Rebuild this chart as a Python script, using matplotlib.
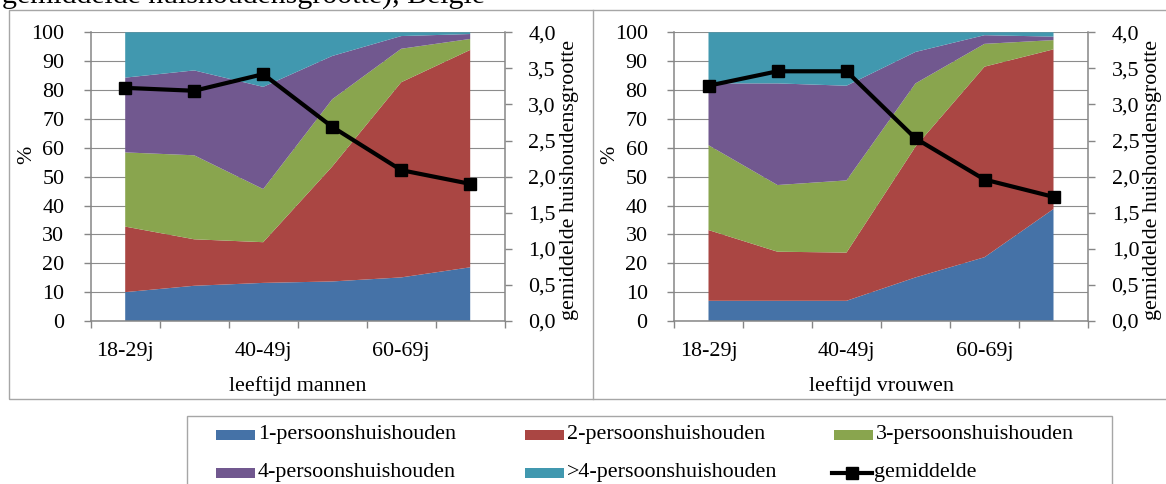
# huishoudensgrootte per leeftijd, mannen en vrouwen (België)
import matplotlib
matplotlib.use('Agg')
import matplotlib.pyplot as plt
from matplotlib.patches import Rectangle
from matplotlib.lines import Line2D
from matplotlib.ticker import FuncFormatter

plt.rcParams['font.family'] = ['Liberation Serif', 'DejaVu Serif']

# Data (aandeel in %, per leeftijdsgroep)
leeftijd = ['18-29j', '30-39j', '40-49j', '50-59j', '60-69j', '70+j']
reeksen = ['1-persoonshuishouden', '2-persoonshuishouden', '3-persoonshuishouden',
           '4-persoonshuishouden', '>4-persoonshuishouden']

mannen_1p = [10.0, 12.2, 13.2, 13.7, 15.1, 18.6]
mannen_2p = [22.7, 16.1, 14.1, 39.8, 67.6, 75.3]
mannen_3p = [25.7, 29.1, 18.4, 23.3, 11.6, 3.8]
mannen_4p = [25.9, 29.4, 35.4, 15.0, 4.4, 1.7]
mannen_5p = [15.7, 13.2, 18.9, 8.2, 1.3, 0.6]
mannen_gem = [3.23, 3.19, 3.42, 2.69, 2.09, 1.90]

vrouwen_1p = [7.0, 7.0, 7.0, 15.1, 22.1, 38.8]
vrouwen_2p = [24.5, 17.0, 16.7, 45.3, 66.0, 55.3]
vrouwen_3p = [29.4, 23.1, 25.0, 21.9, 7.9, 3.2]
vrouwen_4p = [21.4, 35.2, 32.8, 10.9, 3.0, 1.2]
vrouwen_5p = [17.7, 17.7, 18.5, 6.8, 1.0, 1.5]
vrouwen_gem = [3.26, 3.46, 3.46, 2.53, 1.96, 1.72]

kleuren = ['#4572A7', '#AA4643', '#89A54E', '#71588F', '#4198AF']
grijs = '#868686'
kader = '#a6a6a6'

W, H = 1166, 484
FS = 15.8


def px(x, y):
    # pixel (vanaf linksboven) -> figuurfractie
    return x / W, 1 - y / H


fig = plt.figure(figsize=(W / 100, H / 100), dpi=100)

# afgesneden titelregel bovenaan
fig.text(*px(2, 3), 'gemiddelde huishoudensgrootte), België', fontsize=21.5,
         ha='left', va='baseline')

# kaders rond de twee grafieken
fig.add_artist(Rectangle(px(9, 399), (1200 - 9) / W, (399 - 10) / H, transform=fig.transFigure,
                         fill=False, edgecolor=kader, lw=1))
fig.add_artist(Line2D([593 / W, 593 / W], [1 - 10 / H, 1 - 399 / H], transform=fig.transFigure,
                      color=kader, lw=1))


def paneel(x0, shares, gem, xlabel):
    ax = fig.add_axes([x0 / W, 1 - 321 / H, 414 / W, (321 - 32.3) / H])
    x = list(range(len(leeftijd)))
    ax.stackplot(x, *shares, colors=kleuren, labels=reeksen, lw=0, zorder=2)
    ax.set_xlim(-0.5, len(leeftijd) - 0.5)
    ax.set_ylim(0, 100)
    ax.set_yticks(range(0, 101, 10))
    ax.yaxis.grid(True, color='#8c8c8c', lw=0.8, zorder=0)
    ax.set_axisbelow(True)
    # tickstreepjes tussen categorieën, labels om de andere categorie
    ax.set_xticks([i - 0.5 for i in range(len(leeftijd) + 1)])
    ax.set_xticklabels([])
    ax.set_xticks(x[::2], minor=True)
    ax.set_xticklabels(leeftijd[::2], minor=True)
    ax.tick_params(axis='x', which='minor', length=0, pad=15, labelsize=FS)
    ax.tick_params(axis='x', which='major', length=5, width=1, color=grijs, direction='out')
    ax.tick_params(axis='y', length=5, width=1, color=grijs, pad=14, labelsize=FS)
    for s in ['top', 'right']:
        ax.spines[s].set_visible(False)
    for s in ['left', 'bottom']:
        ax.spines[s].set_color(grijs)
        ax.spines[s].set_linewidth(1.1)

    ax2 = ax.twinx()
    ax2.plot(x, gem, color='black', lw=3, marker='s', markersize=8, zorder=5)
    ax2.set_ylim(0, 4)
    ax2.set_yticks([i * 0.5 for i in range(9)])
    ax2.yaxis.set_major_formatter(FuncFormatter(lambda v, p: f'{v:.1f}'.replace('.', ',')))
    ax2.tick_params(axis='y', length=5, width=1, color=grijs, pad=12, labelsize=FS)
    for s in ['top', 'left', 'bottom']:
        ax2.spines[s].set_visible(False)
    ax2.spines['right'].set_color(grijs)
    ax2.spines['right'].set_linewidth(1.1)

    # aslabels
    fig.text(*px(x0 - 64, 155), '%', rotation=90, ha='center', va='center', fontsize=FS)
    fig.text(*px(x0 + 479, 180), 'gemiddelde huishoudensgrootte', rotation=90,
             ha='center', va='center', fontsize=FS)
    fig.text(*px(x0 + 207, 391), xlabel, ha='center', va='baseline', fontsize=FS)
    return ax, ax2


paneel(90.7, [mannen_1p, mannen_2p, mannen_3p, mannen_4p, mannen_5p], mannen_gem, 'leeftijd mannen')
paneel(674.0, [vrouwen_1p, vrouwen_2p, vrouwen_3p, vrouwen_4p, vrouwen_5p], vrouwen_gem, 'leeftijd vrouwen')

# legenda onderaan
fig.add_artist(Rectangle(px(186.7, 500), (1112 - 186.7) / W, (500 - 415.7) / H,
                         transform=fig.transFigure, fill=False, edgecolor=kader, lw=1))
kol_x = [216, 525, 834]
rij_y = [435, 473]
items = list(zip(reeksen, kleuren)) + [('gemiddelde', None)]
for i, (naam, kleur) in enumerate(items):
    xk, yk = kol_x[i % 3], rij_y[i // 3]
    if kleur is not None:
        fig.add_artist(Rectangle(px(xk, yk + 5), 39 / W, 10 / H, transform=fig.transFigure,
                                 facecolor=kleur, edgecolor='none'))
        tx = xk + 42
    else:
        fig.add_artist(Line2D([(xk - 2) / W, (xk + 38) / W], [1 - yk / H] * 2,
                              transform=fig.transFigure, color='black', lw=3))
        fig.add_artist(Line2D([(xk + 18) / W], [1 - yk / H], transform=fig.transFigure,
                              color='black', marker='s', markersize=8))
        tx = xk + 40
    fig.text(*px(tx, yk - 1), naam, ha='left', va='center', fontsize=FS)

fig.savefig('out.png', dpi=100)
